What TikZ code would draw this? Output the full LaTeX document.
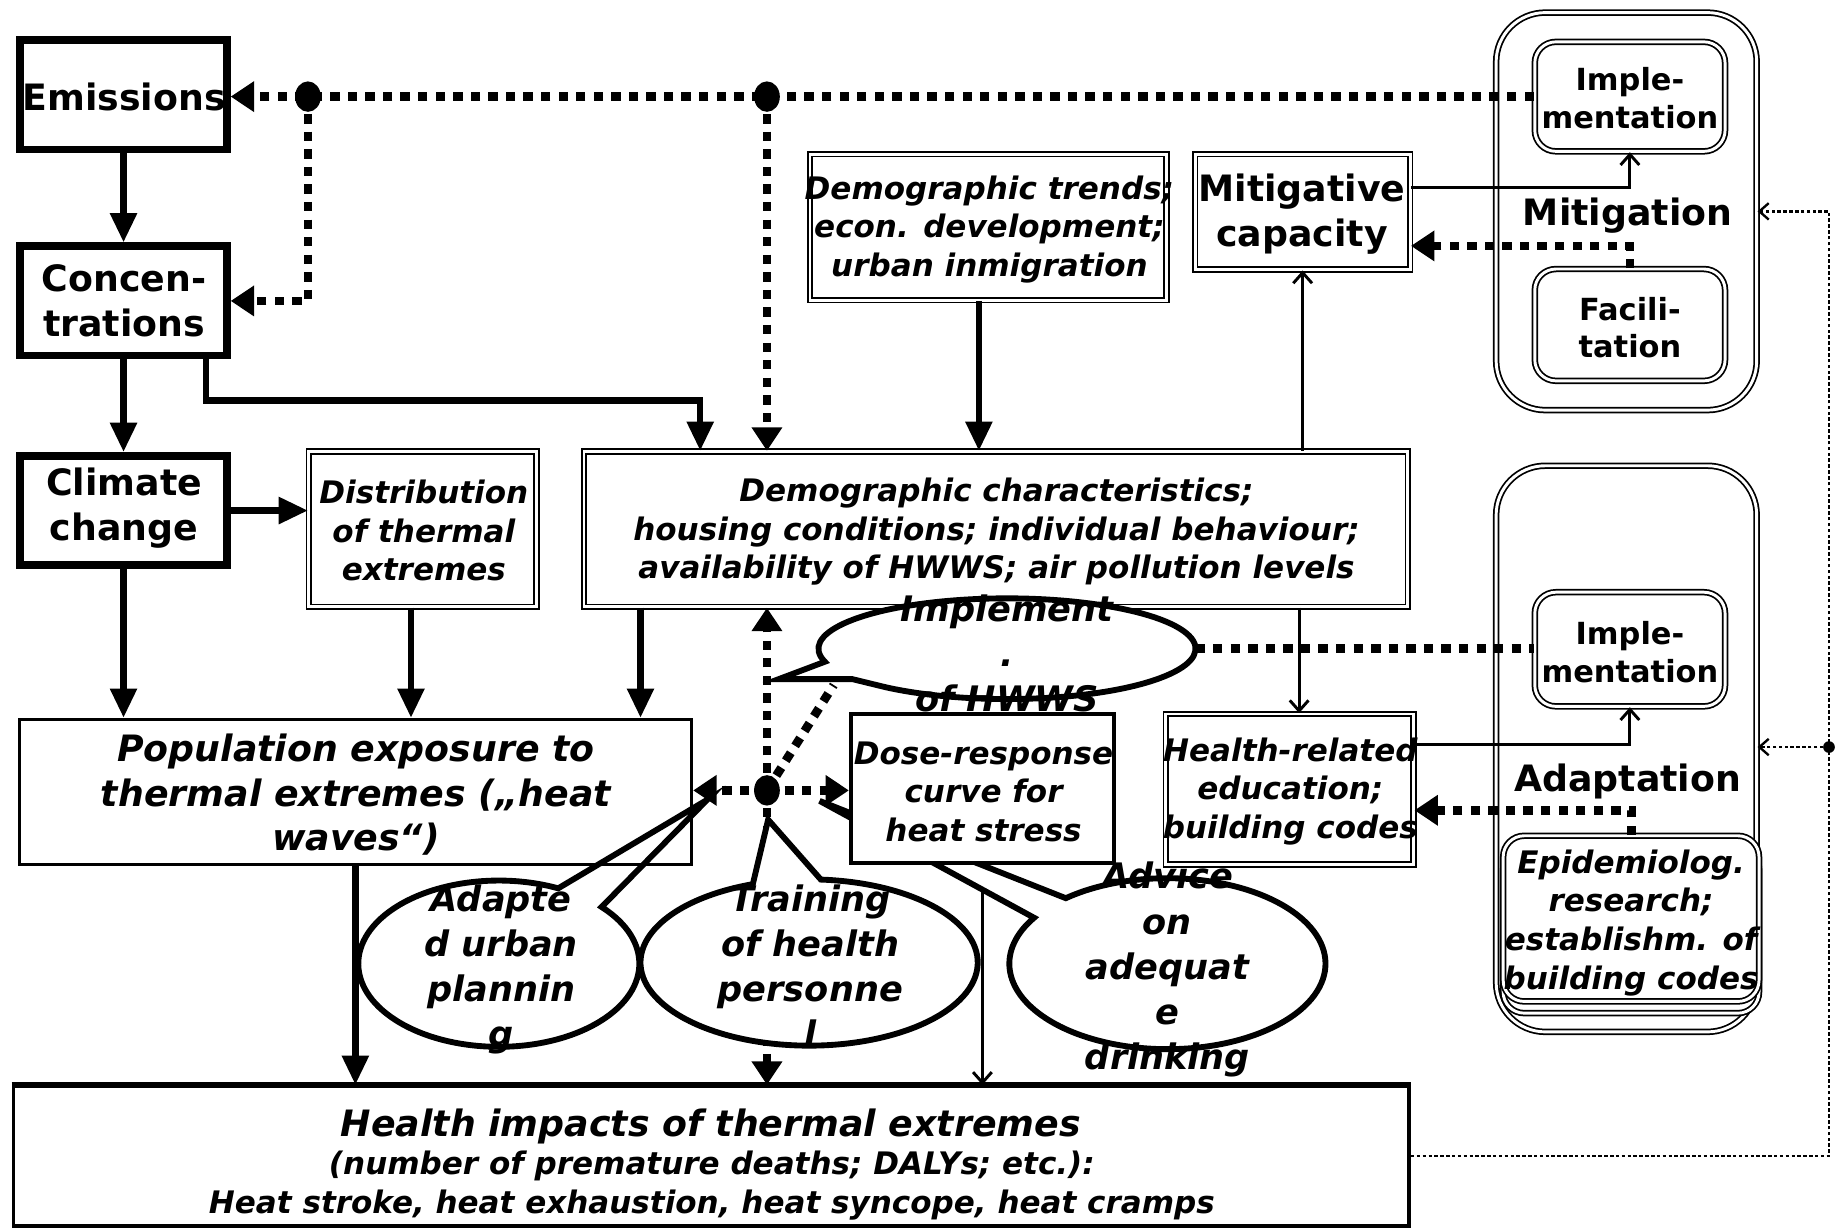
\documentclass[tikz,border=0pt]{standalone}
\usepackage{fontspec}
\setmainfont{DejaVu Sans}
\usetikzlibrary{arrows.meta,calc}
\begin{document}
\begin{tikzpicture}[x=1pt,y=1pt,yscale=-1,
  tbox/.style={draw,line width=6.5pt,fill=white,inner sep=0pt},
  dbox/.style={draw,line width=1.5pt,double,double distance=2.5pt,fill=white,inner sep=0pt},
  rbox/.style={dbox,rounded corners=18pt},
  cbox/.style={draw,line width=1.5pt,double,double distance=2.5pt,inner sep=0pt,rounded corners=42pt},
  sbox/.style={draw,line width=3pt,fill=white,inner sep=0pt},
  bl/.style={font=\fontsize{31}{38}\selectfont\bfseries,align=center,inner sep=0pt},
  il/.style={font=\fontsize{26.5}{33}\selectfont\bfseries\itshape,align=center,inner sep=0pt},
  sl/.style={font=\fontsize{26}{32}\selectfont\bfseries,align=center,inner sep=0pt},
  cl/.style={font=\fontsize{30}{38.5}\selectfont\bfseries\itshape,align=center,inner sep=0pt},
  thk/.style={line width=5.5pt,-{Triangle[length=25pt,width=22pt]}},
  dotl/.style={line width=7.5pt,dash pattern=on 8pt off 7pt},
  dota/.style={dotl,-{Triangle[length=20pt,width=25pt]}},
  thn/.style={line width=2.5pt,-{Straight Barb[length=9pt,width=16pt]}},
  thd/.style={line width=2pt,dash pattern=on 3pt off 2pt},
  call/.style={line width=5pt,fill=white,line join=miter},
]
\fill[white] (0,0) rectangle (1568,1050);
\useasboundingbox (0,0) rectangle (1568,1050);

% ---------- named points ----------
\coordinate (d1) at (263,82.5);
\coordinate (d2) at (655,82.5);
\coordinate (c0) at (655,675);
\coordinate (imT) at (712,585);
\coordinate (imE) at (1021,554);
\coordinate (cim) at (860,554);
\coordinate (ctr) at (691,822);
\coordinate (cad) at (997,823);
\coordinate (cap) at (426,823);
\coordinate (rtop) at (1562,180.5);
\coordinate (rd) at (1562,638);

% ---------- containers ----------
\node[cbox,minimum width=222.5pt,minimum height=339.5pt] (mitig) at (1389,180.5) {};
\node[cbox,minimum width=222.5pt,minimum height=483.5pt] (adapt) at (1389,639.5) {};

% health box
\node[draw,line width=3pt,fill=white,inner sep=0pt,minimum width=1192pt,minimum height=119pt] (health) at (607.5,987.5) {};
\draw[line width=5pt] (health.north west) -- (health.north east);
\node[font=\fontsize{31}{34}\selectfont\bfseries\itshape,anchor=base,inner sep=0pt] (h1) at (607,971) {Health impacts of thermal extremes};
\node[font=\fontsize{26.5}{33}\selectfont\bfseries\itshape,anchor=base,inner sep=0pt] (h2) at (608,1003) {(number of premature deaths; DALYs; etc.):};
\node[font=\fontsize{26.5}{33}\selectfont\bfseries\itshape,anchor=base,inner sep=0pt] (h3) at (608,1036) {Heat stroke, heat exhaustion, heat syncope, heat cramps};

% dose box position (box itself drawn later)
\path (839,673.5) node[inner sep=0pt,minimum width=224.5pt,minimum height=127.5pt] (dose) {};

% ---------- lines under the callouts ----------
\draw[thn] (dose.south) -- (dose.south |- health.north);
\draw[dota] (c0) -- (c0 |- health.north);
\draw[dotl] (c0) -- (imT);

% ---------- callouts below the boxes ----------
\filldraw[call] (cad) ++(-130:135pt and 73pt) arc[start angle=-130,end angle=212.5,x radius=135pt,y radius=73pt] -- (700,684) -- cycle;
\node[cl] (tad) at (997,828) {Advice\\on\\adequat\\e\\drinking};

\filldraw[call] (ctr) ++(-86:144pt and 71pt) arc[start angle=-86,end angle=250.5,x radius=144pt,y radius=71pt] -- (656,700) -- cycle;
\node[cl] (ttr) at (692,825) {Training\\of health\\personne\\l};

% ---------- boxes ----------
\node[tbox,minimum width=176.5pt,minimum height=93.5pt] (emis) at (105.5,81) {};
\node[bl] at (106,83) {Emissions};
\node[tbox,minimum width=176.5pt,minimum height=93.5pt] (conc) at (105.5,257) {};
\node[bl] at (106,257) {Concen-\\trations};
\node[tbox,minimum width=176.5pt,minimum height=93.5pt] (clim) at (105.5,436) {};
\node[bl] at (106,434) {Climate\\change};

\node[dbox,minimum width=194.5pt,minimum height=132.5pt] (dist) at (361,452) {};
\node[il] at (362,453) {Distribution\\of thermal\\extremes};

\node[dbox,minimum width=703.5pt,minimum height=132.5pt] (demo) at (850.5,452) {};
\node[il] at (851,454) {Demographic characteristics;\\housing conditions; individual behaviour;\\availability of HWWS; air pollution levels};

% Implementation-of-HWWS callout, over the characteristics box
\filldraw[call] (cim) ++(165:161pt and 43pt) arc[start angle=165,end angle=490,x radius=161pt,y radius=43pt] -- (728,580) -- (665,580) -- cycle;
\node[cl] (tim) at (860,558) {Implement\\.\\of HWWS};

\node[dbox,minimum width=304.5pt,minimum height=124.5pt] (trends) at (844,194) {};
\node[il] at (845,196) {Demographic trends;\\econ. development;\\urban inmigration};

\node[dbox,minimum width=183.5pt,minimum height=98.5pt] (mitcap) at (1112.5,181) {};
\node[bl] at (1112,183) {Mitigative\\capacity};

\node[rbox,minimum width=162.5pt,minimum height=93.5pt] (mimpl) at (1392,82.5) {};
\node[sl] at (1392,84) {Imple-\\mentation};
\node[rbox,minimum width=162.5pt,minimum height=95.5pt] (facil) at (1392,277.5) {};
\node[sl] at (1392,280) {Facili-\\tation};
\node[bl] (mitlab) at (1390,184) {Mitigation};

\node[rbox,minimum width=162.5pt,minimum height=97.5pt] (aimpl) at (1392,554.5) {};
\node[sl] at (1392,557) {Imple-\\mentation};
\node[bl] (adlab) at (1390,667) {Adaptation};
\node[rbox,minimum width=218.5pt,minimum height=141.5pt] (epib) at (1393,794.5) {};
\node[rbox,minimum width=218.5pt,minimum height=141.5pt] (epi) at (1393,784.5) {};
\node[il] at (1393,788) {Epidemiolog.\\research;\\establishm. of\\building codes};

\node[sbox,minimum width=574pt,minimum height=124pt] (pop) at (303.5,676.5) {};
\node[font=\fontsize{31}{38}\selectfont\bfseries\itshape,align=center,inner sep=0pt] at (304,679) {Population exposure to\\thermal extremes („heat\\waves“)};

\node[draw,line width=3.5pt,fill=white,inner sep=0pt,minimum width=224.5pt,minimum height=127.5pt] (dosebox) at (dose) {};
\node[il] at (840,676) {Dose-response\\curve for\\heat stress};

\node[dbox,minimum width=211.5pt,minimum height=128.5pt] (hrel) at (1101.5,674) {};
\node[il] at (1102,676) {Health-related\\education;\\building codes};

% Adapted urban planning callout (tail over the exposure box)
\fill[white] (cap) ellipse[x radius=120pt,y radius=71pt];
\draw[line width=5pt,line join=miter] (cap) ++(-43:120pt and 71pt) arc[start angle=-43,end angle=295,x radius=120pt,y radius=71pt] -- (604,683) -- cycle;
\node[cl] (tap) at (428,828) {Adapte\\d urban\\plannin\\g};

% ---------- connectors ----------
\draw[thk] (emis.south) -- (conc.north);
\draw[thk] (conc.south) -- (clim.north);
\draw[thk] (clim.south) -- (clim.south |- pop.north);
\draw[thk] (clim.east) -- (clim.east -| dist.west);
\draw[thk] ([xshift=-10pt]dist.south) -- ([xshift=-10pt]dist.south |- pop.north);
\coordinate (dp) at ($(demo.south west)+(49,0)$);
\draw[thk] (dp) -- (dp |- pop.north);
\draw[thk] ($(conc.south east)+(-21,0)$) -- ++(0,35) -| ($(demo.north west)+(100,0)$);
\coordinate (tp) at ($(trends.south)+(-8,0)$);
\draw[thk] (tp) -- (tp |- demo.north);
\draw[thk] (pop.south) -- (pop.south |- health.north);

\draw[thn] (mitcap.south |- demo.north) -- (mitcap.south);
\draw[thn] ($(mitcap.east)+(0,-21)$) -| (mimpl.south);
\draw[dota] (facil.north) |- ($(mitcap.east)+(0,29)$);

\draw[dota] (mimpl.west) -- (mimpl.west -| emis.east);
\draw[dota] (d1) |- (conc.east);
\draw[dota] (d2) -- (d2 |- demo.north);
\fill (d1) circle[x radius=11pt,y radius=13pt];
\fill (d2) circle[x radius=11pt,y radius=13pt];

\draw[dota] (c0) -- (c0 |- demo.south);
\draw[dota] (c0) -- (c0 -| pop.east);
\draw[dota] (c0) -- (c0 -| dosebox.west);
\fill (c0) circle[x radius=11pt,y radius=13pt];

\coordinate (hx) at ($(hrel.north)+(8,0)$);
\draw[thn] (hx |- demo.south) -- (hx);
\draw[thn] ($(hrel.east)+(0,-38)$) -| (aimpl.south);
\draw[dota] (epi.north) |- ($(hrel.east)+(0,18)$);
\draw[dotl] (imE) -- (imE -| aimpl.west);

\draw[thd,-{Straight Barb[length=8pt,width=14pt]}] (health.east) -| (rtop) -- (mitig.east);
\fill (rd) circle (5pt);
\draw[thd,-{Straight Barb[length=8pt,width=14pt]}] (rd) -- (rd -| adapt.east);
\end{tikzpicture}
\end{document}
